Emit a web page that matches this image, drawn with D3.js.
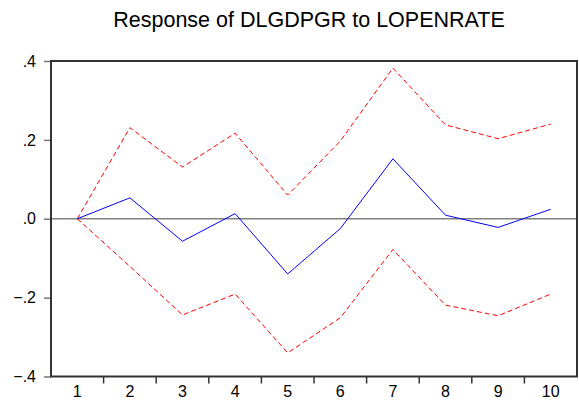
<!DOCTYPE html>
<html>
<head>
<meta charset="utf-8">
<script src="https://cdn.jsdelivr.net/npm/d3@7"></script>
<style>
  body { margin: 0; background: #fff; }
  svg { display: block; font-family: "Liberation Sans", Arial, sans-serif; }
</style>
</head>
<body>
<div id="chart"></div>
<script>
const periods = [1, 2, 3, 4, 5, 6, 7, 8, 9, 10];
const response = [0, 0.053, -0.057, 0.013, -0.140, -0.025, 0.152, 0.009, -0.022, 0.024];
const upperBand = [0, 0.231, 0.131, 0.217, 0.060, 0.197, 0.382, 0.238, 0.203, 0.240];
const lowerBand = [0, -0.121, -0.244, -0.191, -0.340, -0.251, -0.078, -0.219, -0.246, -0.191];
const yTicks = [0.4, 0.2, 0, -0.2, -0.4];

const width = 579;
const height = 408;
const margin = { top: 61, right: 2, bottom: 31.5, left: 51 };

const x = d3.scaleBand()
  .domain(periods)
  .range([margin.left, width - margin.right]);

const y = d3.scaleLinear()
  .domain([-0.4, 0.4])
  .range([height - margin.bottom, margin.top]);

const fmt = d => d === 0 ? ".0" : d3.format(".1f")(d).replace("0.", ".");

const svg = d3.select("#chart").append("svg")
  .attr("width", width)
  .attr("height", height);

// title
svg.append("text")
  .attr("x", 309)
  .attr("y", 27)
  .attr("text-anchor", "middle")
  .attr("font-size", 21.5)
  .attr("fill", "#000")
  .text("Response of DLGDPGR to LOPENRATE");

// y axis ticks + labels
const yAxis = g => g
  .attr("transform", `translate(${margin.left},0)`)
  .call(d3.axisLeft(y).tickValues(yTicks).tickFormat(fmt).tickSize(7).tickPadding(8))
  .call(g => g.select(".domain").remove())
  .call(g => g.selectAll("line").attr("stroke", "#777").attr("stroke-width", 1.5))
  .call(g => g.selectAll("text").attr("font-size", 16).attr("fill", "#000").attr("font-family", null));

// x axis: ticks at band boundaries, labels at centers
const xAxis = g => g
  .attr("transform", `translate(0,${height - margin.bottom})`)
  .call(d3.axisBottom(x).tickSize(0).tickPadding(9))
  .call(g => g.select(".domain").remove())
  .call(g => g.selectAll("text").attr("font-size", 16).attr("fill", "#000").attr("font-family", null));

svg.append("g").call(yAxis);
svg.append("g").call(xAxis);

svg.append("g")
  .selectAll("line")
  .data(periods.slice(1))
  .join("line")
    .attr("x1", d => x(d))
    .attr("x2", d => x(d))
    .attr("y1", height - margin.bottom)
    .attr("y2", height - margin.bottom + 7)
    .attr("stroke", "#333")
    .attr("stroke-width", 1.5);

// zero line
svg.append("line")
  .attr("x1", margin.left)
  .attr("x2", width - margin.right)
  .attr("y1", y(0))
  .attr("y2", y(0))
  .attr("stroke", "#808080")
  .attr("stroke-width", 1.5);

const line = d3.line()
  .x((d, i) => x(periods[i]) + x.bandwidth() / 2)
  .y(d => y(d));

svg.append("path")
  .datum(upperBand)
  .attr("d", line)
  .attr("fill", "none")
  .attr("stroke", "#ff0000")
  .attr("stroke-width", 1)
  .attr("stroke-dasharray", "5,3");

svg.append("path")
  .datum(lowerBand)
  .attr("d", line)
  .attr("fill", "none")
  .attr("stroke", "#ff0000")
  .attr("stroke-width", 1)
  .attr("stroke-dasharray", "5,3");

svg.append("path")
  .datum(response)
  .attr("d", line)
  .attr("fill", "none")
  .attr("stroke", "#0000ff")
  .attr("stroke-width", 1);

// frame
svg.append("rect")
  .attr("x", margin.left)
  .attr("y", margin.top)
  .attr("width", width - margin.left - margin.right)
  .attr("height", height - margin.top - margin.bottom)
  .attr("fill", "none")
  .attr("stroke", "#333")
  .attr("stroke-width", 2);
</script>
</body>
</html>
